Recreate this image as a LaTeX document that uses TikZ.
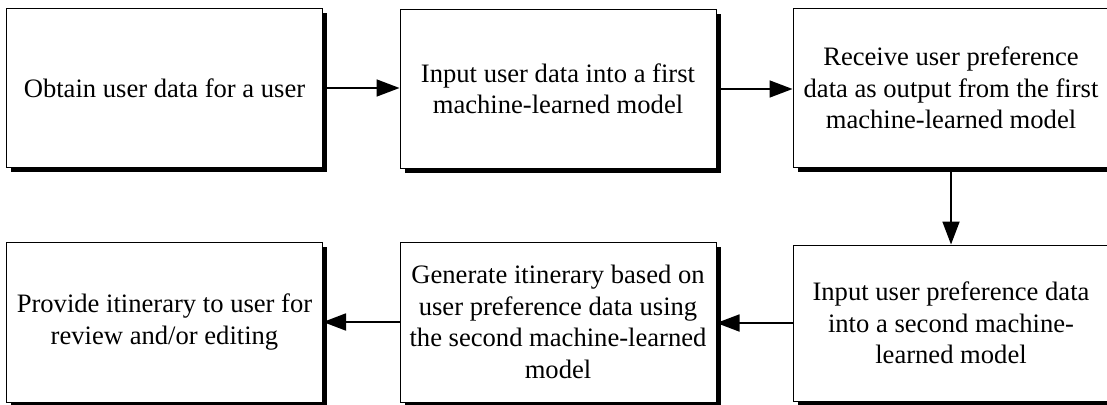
\documentclass[tikz,border=0pt]{standalone}
\usepackage{fontspec}
\setmainfont{Liberation Serif}
\usetikzlibrary{arrows.meta,shadows}
\tikzset{
  stepbox/.style={draw=black, line width=1pt, fill=white, inner sep=0pt,
    minimum width=316, minimum height=158, align=center,
    font=\fontsize{26.6}{31.5}\selectfont,
    drop shadow={shadow xshift=4.5pt, shadow yshift=-4.5pt, fill=black, opacity=1}},
  flow/.style={line width=1.8pt, -{Triangle[length=23pt,width=17pt]}}
}
\begin{document}
\begin{tikzpicture}[x=1pt,y=-1pt]
  \useasboundingbox (0,0) rectangle (1107,404);
  \node[stepbox] (obtain) at (164.5,88) {Obtain user data for a user};
  \node[stepbox] (inputA) at (558,89) {Input user data into a first\\machine-learned model};
  \node[stepbox] (receive) at (951,88) {Receive user preference\\data as output from the first\\machine-learned model};
  \node[stepbox, minimum height=156] (inputB) at (951,323) {Input user preference data\\into a second machine-\\learned model};
  \node[stepbox, minimum height=160] (generate) at (558,322) {Generate itinerary based on\\user preference data using\\the second machine-learned\\model};
  \node[stepbox, minimum height=160] (provide) at (164.5,322) {Provide itinerary to user for\\review and/or editing};
  \draw[flow] (obtain.east) -- (obtain.east -| inputA.west);
  \draw[flow] (inputA.east) -- (inputA.east -| receive.west);
  \draw[flow] (receive) -- (inputB);
  \draw[flow] (inputB.west) -- (inputB.west -| generate.east);
  \draw[flow] (generate.west) -- (generate.west -| provide.east);
\end{tikzpicture}
\end{document}
